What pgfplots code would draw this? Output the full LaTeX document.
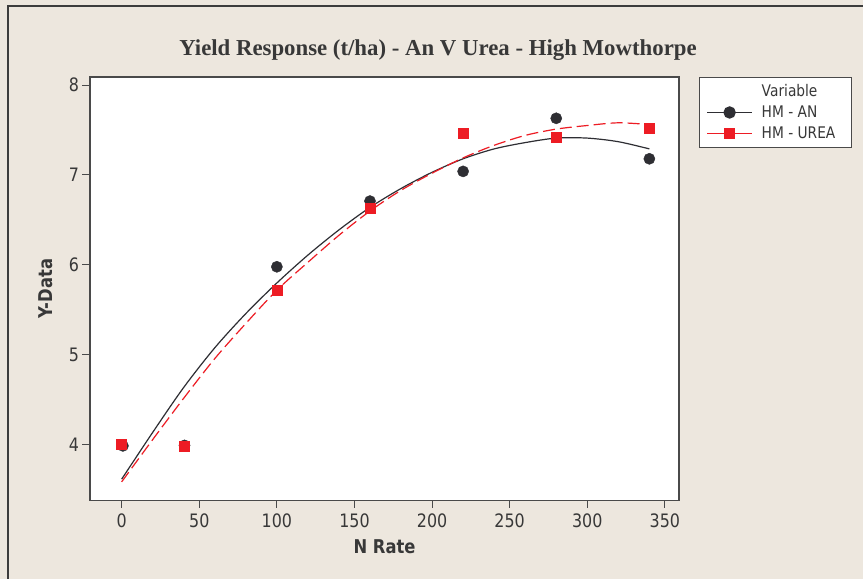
\documentclass[border=0pt]{standalone}
\usepackage{pgfplots}
\pgfplotsset{compat=1.18}
\usepackage{fontspec}
\setmainfont{Liberation Serif}
\newfontfamily\labfont{DejaVu Sans}[FakeStretch=0.86]

\definecolor{bgbeige}{HTML}{EDE7DE}
\definecolor{framegrey}{HTML}{3C3C3C}
\definecolor{axisgrey}{HTML}{4A4A4A}
\definecolor{txtgrey}{HTML}{383838}
\definecolor{anblack}{HTML}{2E2E33}
\definecolor{ureared}{HTML}{ED1C24}

% legend text cell of fixed width
\newcommand{\legtext}[1]{\makebox[92bp][l]{\hspace{9bp}#1}}

\begin{document}
\begin{tikzpicture}
% page background and outer frame
\fill[bgbeige] (0,0) rectangle (863bp,579bp);
\useasboundingbox (0,0) rectangle (863bp,579bp);
\draw[framegrey, line width=2.5bp] (8bp,-5bp) -- (8bp,573bp) -- (870bp,573bp);
\node[anchor=base, font=\bfseries\fontsize{22.8bp}{26bp}\selectfont, text=txtgrey]
  at (438bp,523bp) {Yield Response (t/ha) - An V Urea - High Mowthorpe};

\begin{axis}[
  at={(90bp,78.5bp)}, anchor=south west,
  scale only axis, width=589bp, height=423.5bp,
  xmin=-20.4, xmax=359.1, ymin=3.383, ymax=8.089,
  axis background/.style={fill=white},
  axis line style={axisgrey, line width=1.2bp},
  xtick={0,50,...,350}, ytick={4,5,6,7,8},
  tick align=outside, tick pos=left,
  major tick length=7.5bp,
  every tick/.style={axisgrey, line width=1bp},
  /pgf/number format/assume math mode=true,
  ticklabel style={font=\labfont\fontsize{18.5bp}{22bp}\selectfont, text=txtgrey},
  xticklabel style={yshift=-2bp},
  xlabel={N Rate}, ylabel={Y-Data},
  every axis x label/.style={at={(axis description cs:0.5,0)}, yshift=-46.5bp, anchor=center,
    font=\labfont\bfseries\fontsize{19bp}{22bp}\selectfont, text=txtgrey},
  every axis y label/.style={at={(axis description cs:0,0.5)}, xshift=-44bp, anchor=center, rotate=90,
    font=\labfont\bfseries\fontsize{19bp}{22bp}\selectfont, text=txtgrey},
  legend image code/.code={\draw[mark repeat=2,mark phase=2,#1]
    plot coordinates {(0bp,0bp) (22.5bp,0bp) (45bp,0bp)};},
  legend cell align=left,
  legend style={at={(1.034,1.0)}, anchor=north west, draw=axisgrey, line width=1bp,
    fill=white, text=txtgrey, font=\labfont\fontsize{16bp}{18bp}\selectfont,
    inner xsep=7bp, inner ysep=5.5bp, row sep=4bp,
    nodes={inner xsep=0bp, text height=12bp, text depth=1bp}},
]
% fitted curves
\addplot[forget plot, anblack, line width=1.2bp, smooth] coordinates {
  (0,3.62) (20,4.14) (40,4.64) (60,5.08) (80,5.46) (100,5.80) (120,6.11)
  (140,6.39) (160,6.64) (180,6.85) (200,7.03) (220,7.18) (240,7.29)
  (260,7.36) (280,7.41) (300,7.41) (320,7.37) (340,7.29)};
\addplot[forget plot, ureared, line width=1.2bp, dash pattern=on 12bp off 5bp, smooth] coordinates {
  (0,3.59) (20,4.06) (40,4.52) (60,4.96) (80,5.35) (100,5.72) (120,6.03)
  (140,6.33) (160,6.60) (180,6.83) (200,7.02) (220,7.19) (240,7.33)
  (260,7.44) (280,7.51) (300,7.55) (320,7.58) (340,7.56)};
% observed yields
\addplot[forget plot, only marks, mark=*, mark size=5.6bp, anblack, mark options={fill=anblack}] coordinates {
  (0.8,3.99) (40.5,3.995) (100,5.98) (160,6.71) (220,7.04) (280,7.63) (340,7.18)};
\addplot[forget plot, only marks, mark=square*, mark size=5bp, ureared, mark options={fill=ureared}] coordinates {
  (0,4.01) (40,3.99) (100,5.72) (160,6.63) (220,7.46) (280,7.42) (340,7.52)};
% legend
\addlegendimage{legend image code/.code={\path[draw=none] (0bp,0bp) -- (45bp,0bp);}}
\addlegendentry{\legtext{Variable}}
\addlegendimage{anblack, line width=1.2bp, mark=*, mark size=5.6bp, mark options={fill=anblack}}
\addlegendentry{\legtext{HM - AN}}
\addlegendimage{ureared, line width=1.2bp, mark=square*, mark size=5bp, mark options={fill=ureared}}
\addlegendentry{\legtext{HM - UREA}}
\end{axis}
\end{tikzpicture}
\end{document}
